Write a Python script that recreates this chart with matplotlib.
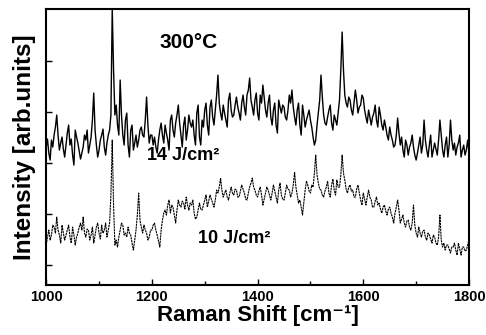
import numpy as np
import matplotlib
matplotlib.use("Agg")
import matplotlib.pyplot as plt

plt.rcParams['font.family'] = ['Liberation Sans', 'DejaVu Sans']

# Raman shift axis (cm^-1), 2.5 cm^-1 steps
shift = np.arange(1000, 1800.1, 2.5)

# 14 J/cm2 spectrum (arb. units)
i_14 = [138, 146, 132, 125, 145, 138, 150, 158, 170, 150, 135, 142, 148, 136, 128, 140, 152, 160, 140, 146,
        130, 120, 155, 148, 142, 134, 126, 132, 138, 150, 145, 155, 132, 140, 148, 165, 192, 155, 140, 128,
        135, 145, 150, 156, 138, 130, 142, 150, 155, 170, 276, 215, 170, 180, 160, 150, 205, 170, 150, 140,
        165, 172, 140, 128, 155, 160, 135, 142, 150, 138, 145, 155, 158, 150, 148, 165, 188, 160, 142, 150,
        150, 140, 148, 138, 132, 145, 155, 162, 150, 142, 160, 152, 145, 135, 165, 170, 155, 148, 162, 170,
        180, 162, 150, 138, 160, 168, 145, 155, 170, 162, 158, 165, 150, 140, 172, 180, 148, 140, 165, 158,
        175, 182, 160, 150, 178, 185, 168, 160, 175, 190, 210, 182, 172, 165, 180, 172, 165, 158, 185, 192,
        175, 168, 170, 180, 188, 178, 172, 165, 182, 190, 178, 170, 190, 195, 207, 185, 178, 170, 185, 192,
        172, 165, 190, 182, 200, 188, 175, 168, 182, 190, 168, 160, 175, 182, 160, 152, 185, 178, 172, 180,
        178, 168, 165, 175, 190, 182, 195, 178, 168, 160, 175, 182, 160, 150, 180, 170, 158, 165, 170, 175,
        165, 158, 148, 140, 145, 160, 172, 185, 210, 188, 170, 162, 160, 168, 175, 180, 162, 155, 170, 165,
        160, 172, 185, 215, 253, 215, 190, 182, 178, 188, 185, 175, 170, 182, 195, 185, 172, 178, 180, 190,
        187, 175, 168, 162, 175, 168, 160, 168, 172, 180, 165, 158, 178, 170, 160, 155, 165, 158, 150, 145,
        158, 150, 145, 138, 140, 150, 167, 152, 140, 148, 135, 128, 145, 140, 130, 138, 142, 150, 138, 130,
        125, 132, 140, 148, 132, 140, 165, 145, 135, 128, 140, 150, 128, 135, 142, 136, 130, 145, 165, 150,
        135, 128, 140, 148, 128, 140, 165, 145, 135, 142, 130, 138, 142, 150, 128, 135, 140, 130, 135, 145,
        132]

# 10 J/cm2 spectrum (arb. units)
i_10 = [40, 48, 55, 45, 50, 60, 58, 52, 68, 55, 50, 42, 60, 52, 45, 50, 55, 60, 48, 42,
        58, 50, 40, 48, 52, 58, 62, 55, 68, 52, 48, 56, 55, 45, 50, 58, 42, 50, 58, 62,
        52, 46, 60, 52, 55, 62, 48, 55, 62, 90, 145, 80, 40, 45, 38, 48, 55, 62, 60, 50,
        52, 48, 58, 52, 50, 42, 35, 45, 55, 70, 92, 65, 58, 52, 60, 55, 52, 45, 48, 55,
        55, 60, 62, 55, 50, 44, 38, 55, 65, 72, 75, 70, 80, 85, 72, 80, 78, 70, 62, 75,
        85, 80, 78, 84, 82, 76, 88, 80, 75, 82, 80, 85, 72, 66, 68, 75, 82, 76, 75, 80,
        85, 90, 78, 84, 90, 86, 82, 78, 85, 95, 92, 98, 107, 95, 88, 92, 95, 88, 85, 92,
        98, 92, 90, 96, 95, 88, 88, 94, 100, 96, 92, 86, 85, 92, 98, 102, 107, 98, 95, 90,
        88, 94, 98, 90, 80, 86, 92, 98, 95, 90, 85, 92, 100, 94, 88, 82, 95, 102, 90, 86,
        85, 92, 100, 96, 95, 88, 92, 100, 113, 98, 90, 82, 85, 78, 70, 82, 95, 104, 100, 94,
        92, 100, 98, 112, 130, 110, 102, 96, 95, 90, 88, 94, 98, 104, 92, 88, 100, 106, 95, 90,
        105, 98, 98, 110, 130, 112, 105, 96, 92, 98, 100, 94, 95, 88, 88, 96, 100, 92, 85, 80,
        92, 86, 80, 88, 95, 88, 85, 78, 78, 84, 88, 80, 82, 76, 72, 78, 80, 74, 70, 76,
        78, 72, 68, 62, 72, 78, 85, 75, 62, 66, 70, 62, 58, 64, 65, 58, 55, 62, 80, 60,
        52, 48, 58, 52, 48, 54, 55, 48, 45, 52, 50, 46, 42, 50, 48, 42, 40, 48, 70, 45,
        38, 42, 35, 40, 40, 36, 32, 38, 38, 42, 35, 30, 42, 36, 30, 38, 38, 34, 35, 40,
        45]

fig = plt.figure(figsize=(4.86, 3.35), dpi=100)
ax = fig.add_axes([0.095, 0.149, 0.870, 0.824])

ax.plot(shift, i_14, color='black', lw=1.0)
ax.plot(shift, i_10, color='black', lw=0.8, ls=(0, (2, 0.6)))

ax.set_xlim(1000, 1800)
ax.set_ylim(0, 276)
ax.set_xticks([1000, 1200, 1400, 1600, 1800])
ax.set_xticks([1100, 1300, 1500, 1700], minor=True)
ax.set_yticks([20, 71, 122, 173, 224])
ax.set_yticklabels([])
ax.tick_params(direction='in', length=4, width=1)
ax.tick_params(which='minor', direction='in', length=3, width=1)
for lab in ax.get_xticklabels():
    lab.set_fontweight('bold')
    lab.set_fontsize(10.5)
for s in ax.spines.values():
    s.set_linewidth(1.5)

ax.set_xlabel('Raman Shift [cm⁻¹]', fontsize=16, fontweight='bold', labelpad=1)
ax.set_ylabel('Intensity [arb.units]', fontsize=17.5, fontweight='bold', labelpad=4)

ax.text(1270, 243, '300°C', fontsize=15, fontweight='bold', ha='center', va='center')
ax.text(1190, 130, '14 J/cm²', fontsize=13, fontweight='bold', ha='left', va='center')
ax.text(1288, 47, '10 J/cm²', fontsize=13, fontweight='bold', ha='left', va='center')

fig.savefig('out.png', dpi=100)
